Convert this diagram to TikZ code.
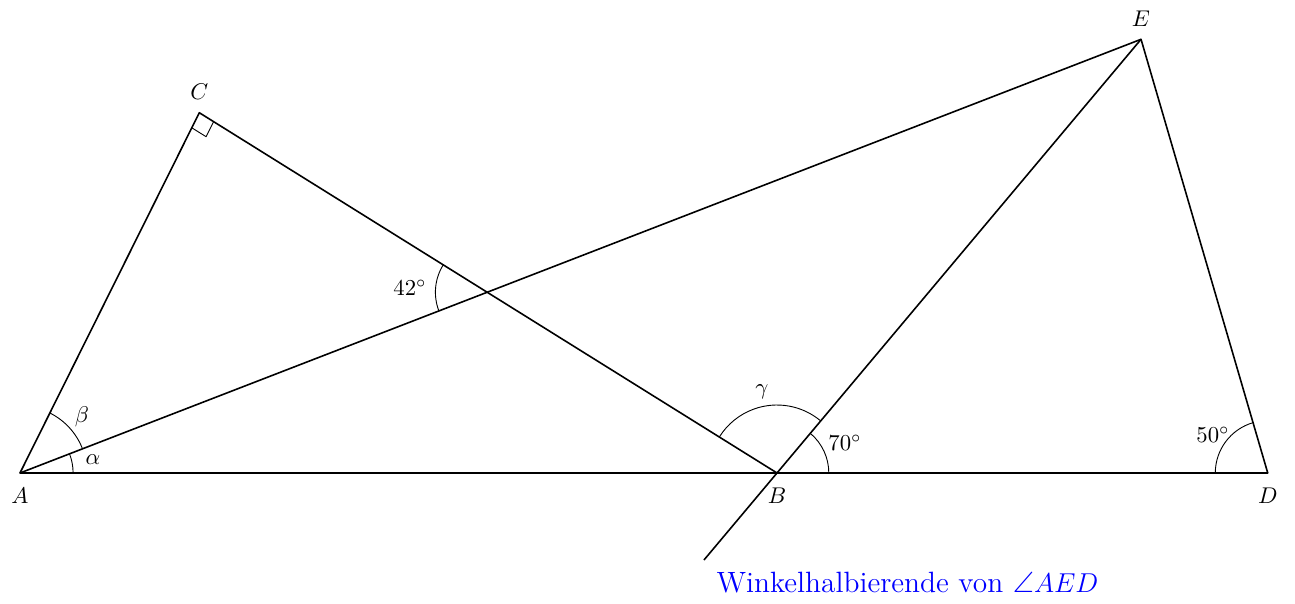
\documentclass[tikz,border=0pt]{standalone}
\usepackage{amssymb}
\usepackage{tikz}
\usetikzlibrary{angles, calc, positioning}
\usepackage{xcolor}
\definecolor{bisector}{HTML}{0000FF}

\begin{document}
\begin{tikzpicture}[line join=round,
    edge/.style={draw=black, line width=0.7pt},
    anglearc/.style={draw=black, line width=0.4pt}]
  \useasboundingbox (0,0) rectangle (20,9.313);

  \coordinate (A) at (0.309,2.008);
  \coordinate (B) at (12.000,2.008);
  \coordinate (D) at (19.579,2.008);
  \coordinate (C) at (3.078,7.572);
  \coordinate (E) at (17.622,8.706);
  \coordinate (W) at ($(E)!1.2006!(B)$);
  \coordinate (S) at (intersection of A--E and C--B);

  % triangles and bisector
  \draw[edge] (A) -- (D) -- (E) -- cycle;
  \draw[edge] (A) -- (C) -- (B);
  \draw[edge] (E) -- (W);

  % right angle at C
  \coordinate (c1) at ($(C)!0.26cm!(A)$);
  \coordinate (c2) at ($(C)!0.26cm!(B)$);
  \draw[anglearc] (c1) -- ($(c1)+(c2)-(C)$) -- (c2);

  % angle arcs
  \pic[anglearc, angle radius=0.82cm] {angle = B--A--E};
  \pic[anglearc, angle radius=1.035cm] {angle = E--A--C};
  \pic[anglearc, angle radius=1.05cm] {angle = E--B--C};
  \pic[anglearc, angle radius=0.80cm] {angle = D--B--E};
  \pic[anglearc, angle radius=0.81cm] {angle = E--D--A};
  \pic[anglearc, angle radius=0.80cm] {angle = C--S--A};

  \node (alpha) at (1.436,2.208) {$\alpha$};
  \node (beta) at (1.266,2.873) {$\beta$};
  \node (gamma) at (11.768,3.259) {$\gamma$};
  \node (w70) at (13.05,2.471) {$70^\circ$};
  \node (w50) at (18.734,2.595) {$50^\circ$};
  \node (w42) at (6.332,4.865) {$42^\circ$};

  % point labels
  \node[below=0.1cm of A] (lA) {$A$};
  \node[below=0.1cm of B] (lB) {$B$};
  \node[below=0.1cm of D] (lD) {$D$};
  \node[above=0.08cm of C] (lC) {$C$};
  \node[above=0.08cm of E] (lE) {$E$};

  \node[text=bisector, font=\fontsize{12.9}{16}\selectfont] (bis) at (14.015,0.317) {Winkelhalbierende von $\angle AED$};
\end{tikzpicture}
\end{document}
